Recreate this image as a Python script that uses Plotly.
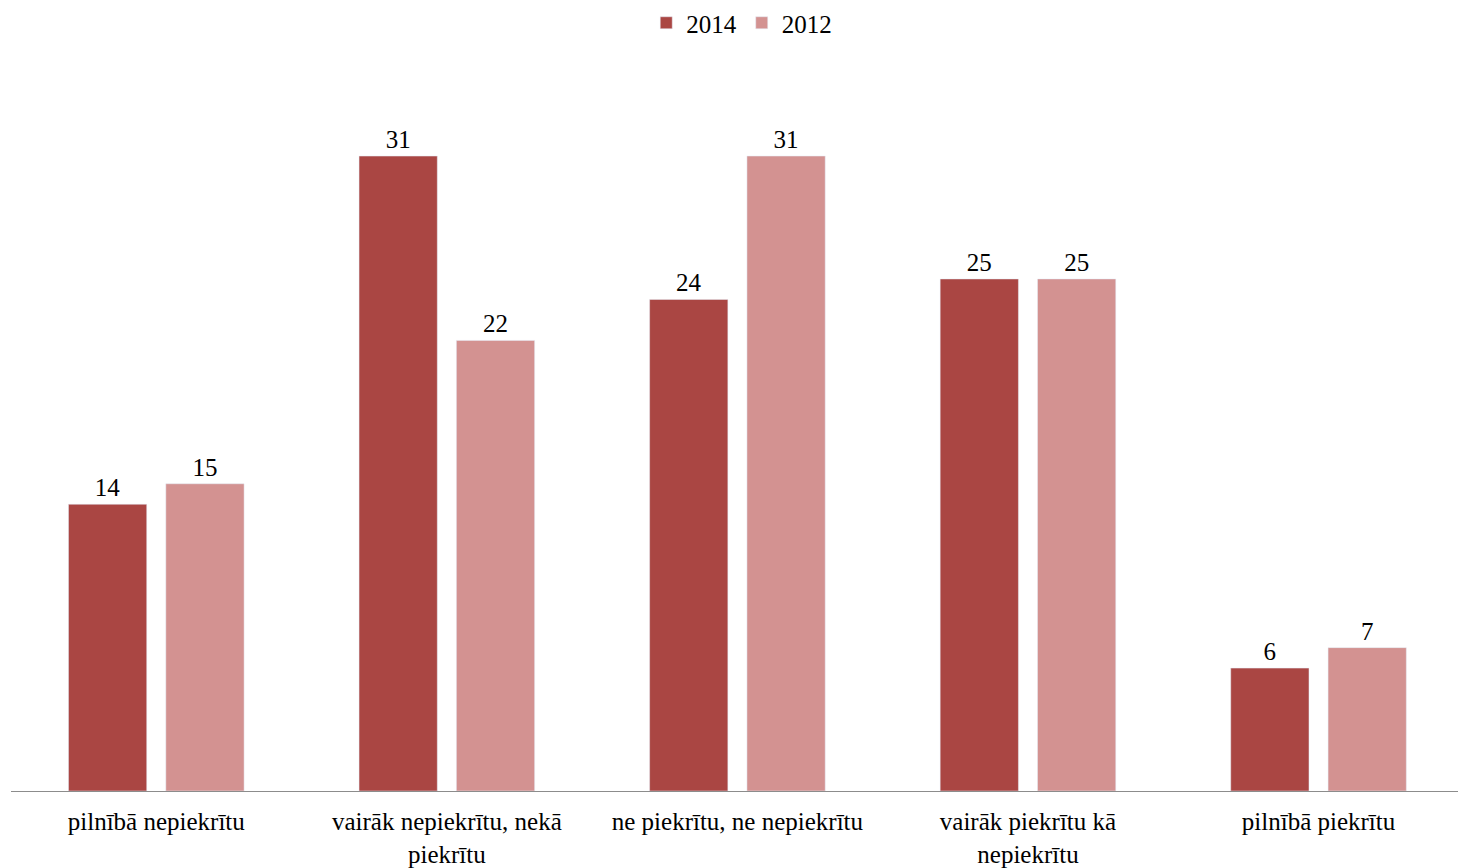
import plotly.graph_objects as go

categories = ["pilnībā nepiekrītu", "vairāk nepiekrītu, nekā<br>piekrītu",
              "ne piekrītu, ne nepiekrītu", "vairāk piekrītu kā<br>nepiekrītu",
              "pilnībā piekrītu"]
series_names = ["2014", "2012"]
values_2014 = [14, 31, 24, 25, 6]
values_2012 = [15, 22, 31, 25, 7]
colors = ["#AA4643", "#D39291"]

font_family = "Liberation Serif, Times New Roman, serif"

fig = go.Figure()
for name, vals, col in zip(series_names, [values_2014, values_2012], colors):
    fig.add_trace(go.Bar(
        name=name, x=categories, y=vals, marker_color=col,
        text=[str(v) for v in vals], textposition="outside",
        textfont=dict(family=font_family, size=25, color="#000000"),
        cliponaxis=False,
    ))

fig.update_layout(
    width=1458, height=868,
    margin=dict(l=11, r=0, t=0, b=77),
    paper_bgcolor="white", plot_bgcolor="white",
    barmode="group", bargap=0.33, bargroupgap=0.196,
    font=dict(family=font_family, size=25, color="#000000"),
    legend=dict(orientation="h", x=0.505, xanchor="center", y=1.0, yanchor="top",
                font=dict(family=font_family, size=25), itemwidth=30,
                traceorder="normal"),
    xaxis=dict(showline=True, linecolor="#8C8C8C", linewidth=1, ticks="",
               tickfont=dict(family=font_family, size=25), showgrid=False,
               ticklabelstandoff=8, range=[-0.5, 4.48]),
    yaxis=dict(range=[0, 38.62], visible=False, showgrid=False),
)

fig.write_html("out.html")
